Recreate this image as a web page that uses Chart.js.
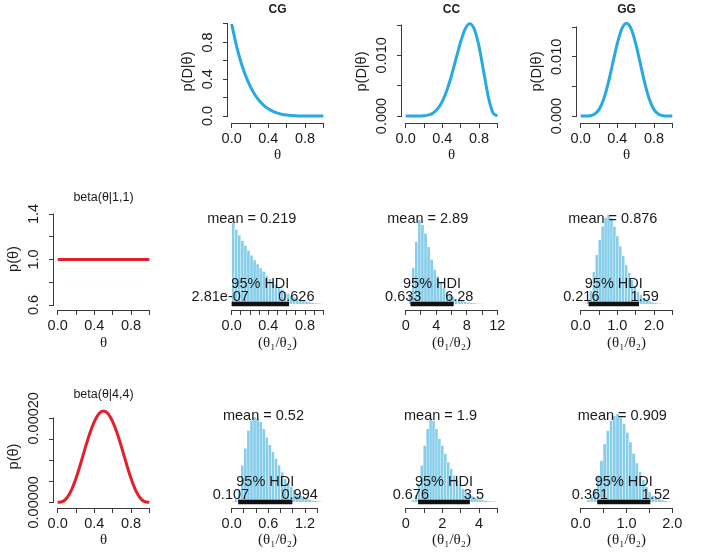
<!DOCTYPE html>
<html>
<head>
<meta charset="utf-8">
<script src="https://cdn.jsdelivr.net/npm/chart.js@4.4.1/dist/chart.umd.min.js"></script>
<style>
  html, body { margin: 0; padding: 0; background: #fff; }
  body { position: relative; width: 704px; height: 554px; overflow: hidden; }
  canvas { position: absolute; }
</style>
</head>
<body>
<script>
// theta grid shared by the likelihood and prior curves
const thetaGrid = [0, 0.05, 0.1, 0.15, 0.2, 0.25, 0.3, 0.35, 0.4, 0.45, 0.5, 0.55, 0.6, 0.65, 0.7, 0.75, 0.8, 0.85, 0.9, 0.95, 1];
const cgLik = [1, 0.774, 0.59, 0.444, 0.328, 0.237, 0.168, 0.116, 0.078, 0.05, 0.031, 0.018, 0.01, 0.005, 0.002, 0.001, 0.0003, 0.0001, 0, 0, 0];
const ccLik = [0, 0, 0.0000005, 0.0000072, 0.0000448, 0.000176, 0.000513, 0.00121, 0.00242, 0.00425, 0.00668, 0.00948, 0.01225, 0.01437, 0.0152, 0.01426, 0.01147, 0.0074, 0.00327, 0.0006, 0];
const ggLik = [0, 0.000001, 0.000034, 0.000276, 0.00108, 0.00279, 0.00552, 0.00892, 0.01229, 0.01478, 0.0157, 0.01478, 0.01229, 0.00892, 0.00552, 0.00279, 0.00108, 0.000276, 0.000034, 0.000001, 0];
const flatTheta = [0, 1];
const flatPrior = [1, 1];
const beta44Prior = [0, 0.0000015, 0.0000102, 0.0000289, 0.000057, 0.0000918, 0.000129, 0.000164, 0.000192, 0.000211, 0.0002175, 0.000211, 0.000192, 0.000164, 0.000129, 0.0000918, 0.000057, 0.0000289, 0.0000102, 0.0000015, 0];

// posterior histograms of theta1/theta2 (bin mids, relative density)
const cgFlatMid = [0.017, 0.05, 0.083, 0.117, 0.15, 0.183, 0.217, 0.25, 0.283, 0.317, 0.35, 0.383, 0.417, 0.45, 0.483, 0.517, 0.55, 0.583, 0.617, 0.65, 0.683, 0.717, 0.75, 0.783, 0.817, 0.85, 0.883, 0.917, 0.95, 0.983];
const cgFlatDens = [1, 0.92, 0.85, 0.78, 0.72, 0.66, 0.6, 0.54, 0.49, 0.44, 0.4, 0.35, 0.31, 0.27, 0.24, 0.21, 0.18, 0.15, 0.125, 0.1, 0.08, 0.065, 0.05, 0.04, 0.03, 0.022, 0.015, 0.01, 0.007, 0.004];
const ccFlatMid = [0.2, 0.6, 1.0, 1.4, 1.8, 2.2, 2.6, 3.0, 3.4, 3.8, 4.2, 4.6, 5.0, 5.4, 5.8, 6.2, 6.6, 7.0, 7.4, 7.8, 8.2, 8.6, 9.0, 9.4, 9.8, 10.2];
const ccFlatDens = [0, 0.12, 0.43, 0.74, 1, 0.94, 0.84, 0.68, 0.53, 0.41, 0.33, 0.25, 0.19, 0.14, 0.11, 0.08, 0.06, 0.045, 0.035, 0.025, 0.018, 0.013, 0.009, 0.006, 0.004, 0.003];
const ggFlatMid = [0.04, 0.12, 0.2, 0.28, 0.36, 0.44, 0.52, 0.6, 0.68, 0.76, 0.84, 0.92, 1.0, 1.08, 1.16, 1.24, 1.32, 1.4, 1.48, 1.56, 1.64, 1.72, 1.8, 1.88, 1.96, 2.04, 2.12, 2.2, 2.28];
const ggFlatDens = [0, 0.005, 0.04, 0.15, 0.36, 0.55, 0.72, 0.87, 0.97, 1, 0.96, 0.87, 0.76, 0.65, 0.54, 0.44, 0.35, 0.27, 0.2, 0.14, 0.1, 0.07, 0.045, 0.03, 0.02, 0.012, 0.007, 0.004, 0.002];
const cgB44Mid = [0.025, 0.075, 0.125, 0.175, 0.225, 0.275, 0.325, 0.375, 0.425, 0.475, 0.525, 0.575, 0.625, 0.675, 0.725, 0.775, 0.825, 0.875, 0.925, 0.975, 1.025, 1.075, 1.125, 1.175, 1.225, 1.275, 1.325, 1.375, 1.425, 1.475];
const cgB44Dens = [0.005, 0.03, 0.15, 0.43, 0.63, 0.84, 0.96, 1, 0.98, 0.94, 0.86, 0.76, 0.67, 0.59, 0.51, 0.43, 0.35, 0.27, 0.22, 0.18, 0.14, 0.1, 0.075, 0.055, 0.04, 0.028, 0.018, 0.012, 0.007, 0.004];
const ccB44Mid = [0.08, 0.24, 0.4, 0.56, 0.72, 0.88, 1.04, 1.2, 1.36, 1.52, 1.68, 1.84, 2.0, 2.16, 2.32, 2.48, 2.64, 2.8, 2.96, 3.12, 3.28, 3.44, 3.6, 3.76, 3.92, 4.08, 4.24, 4.4, 4.56, 4.72, 4.88];
const ccB44Dens = [0, 0.003, 0.02, 0.08, 0.22, 0.44, 0.68, 0.88, 1, 0.98, 0.88, 0.76, 0.68, 0.58, 0.48, 0.4, 0.32, 0.26, 0.2, 0.16, 0.12, 0.09, 0.07, 0.05, 0.04, 0.03, 0.02, 0.015, 0.01, 0.007, 0.005];
const ggB44Mid = [0.035, 0.105, 0.175, 0.245, 0.315, 0.385, 0.455, 0.525, 0.595, 0.665, 0.735, 0.805, 0.875, 0.945, 1.015, 1.085, 1.155, 1.225, 1.295, 1.365, 1.435, 1.505, 1.575, 1.645, 1.715, 1.785, 1.855, 1.925, 1.995];
const ggB44Dens = [0, 0.004, 0.02, 0.06, 0.15, 0.3, 0.47, 0.66, 0.81, 0.92, 0.98, 1, 0.96, 0.89, 0.79, 0.68, 0.55, 0.44, 0.34, 0.25, 0.17, 0.11, 0.07, 0.045, 0.03, 0.02, 0.012, 0.007, 0.004];

// posterior summaries, in panel order CG, CC, GG (flat prior) then CG, CC, GG (beta(4,4))
const postMean = [0.219, 2.89, 0.876, 0.52, 1.9, 0.909];
const postMeanText = ['0.219', '2.89', '0.876', '0.52', '1.9', '0.909'];
const hdiLow = [2.81e-7, 0.633, 0.216, 0.107, 0.676, 0.361];
const hdiLowText = ['2.81e-07', '0.633', '0.216', '0.107', '0.676', '0.361'];
const hdiHigh = [0.626, 6.28, 1.59, 0.994, 3.5, 1.52];
const hdiHighText = ['0.626', '6.28', '1.59', '0.994', '3.5', '1.52'];

// tick values and the labels R kept after dropping overlaps
const thetaTicks = [0, 0.2, 0.4, 0.6, 0.8, 1];
const thetaLabels = ['0.0', '', '0.4', '', '0.8', ''];
const cgYTicks = [0, 0.2, 0.4, 0.6, 0.8, 1];
const cgYLabels = ['0.0', '', '0.4', '', '0.8', ''];
const likYTicks = [0, 0.005, 0.01, 0.015];
const likYLabels = ['0.000', '', '0.010', ''];
const flatYTicks = [0.6, 0.8, 1, 1.2, 1.4];
const flatYLabels = ['0.6', '', '1.0', '', '1.4'];
const b44YTicks = [0, 0.00005, 0.0001, 0.00015, 0.0002];
const b44YLabels = ['0.00000', '', '', '', '0.00020'];
const cgFlatTicks = [0, 0.1, 0.2, 0.3, 0.4, 0.5, 0.6, 0.7, 0.8, 0.9, 1];
const cgFlatLabels = ['0.0', '', '', '', '0.4', '', '', '', '0.8', '', ''];
const ccFlatTicks = [0, 2, 4, 6, 8, 10, 12];
const ccFlatLabels = ['0', '', '4', '', '8', '', '12'];
const ggFlatTicks = [0, 0.5, 1, 1.5, 2, 2.5];
const ggFlatLabels = ['0.0', '', '1.0', '', '2.0', ''];
const cgB44Ticks = [0, 0.2, 0.4, 0.6, 0.8, 1, 1.2, 1.4];
const cgB44Labels = ['0.0', '', '', '0.6', '', '', '1.2', ''];
const ccB44Ticks = [0, 1, 2, 3, 4, 5];
const ccB44Labels = ['0', '', '2', '', '4', ''];
const ggB44Ticks = [0, 0.5, 1, 1.5, 2];
const ggB44Labels = ['0.0', '', '1.0', '', '2.0'];

const FONT = "'Liberation Sans', Arial, sans-serif";
const SERIF = "'Liberation Serif', 'DejaVu Serif', serif";
const INK = '#1a1a1a';
const AXIS = '#3a3a3a';
const BLUE = '#29a9e1';
const RED = '#e0202a';
const SKY = '#87ceeb';
const FS = 14.5;

function textWidth(str, size) {
  const c = document.createElement('canvas').getContext('2d');
  c.font = size + 'px ' + FONT;
  return c.measureText(str).width;
}

// R draws its axis line only between the first and last tick
const bracketAxes = {
  id: 'bracketAxes',
  afterDraw(chart) {
    const ctx = chart.ctx;
    ctx.save();
    ctx.strokeStyle = AXIS;
    ctx.lineWidth = 1;
    ['x', 'y'].forEach(id => {
      const s = chart.scales[id];
      if (!s || !s.options.display || !s.ticks.length) return;
      const a = s.getPixelForValue(s.ticks[0].value);
      const b = s.getPixelForValue(s.ticks[s.ticks.length - 1].value);
      ctx.beginPath();
      if (id === 'x') {
        const y = Math.round(s.top) + 0.5;
        ctx.moveTo(Math.round(a) - 0.5, y); ctx.lineTo(Math.round(b) + 0.5, y);
      } else {
        const x = Math.round(s.right) - 0.5;
        ctx.moveTo(x, Math.round(a) + 0.5); ctx.lineTo(x, Math.round(b) - 0.5);
      }
      ctx.stroke();
    });
    ctx.restore();
  }
};

// mean and HDI notes placed like plotPost does
const hdiNotes = {
  id: 'hdiNotes',
  afterDatasetsDraw(chart, args, o) {
    if (!o || o.mean === undefined) return;
    const x = chart.scales.x, y = chart.scales.y, ctx = chart.ctx;
    const y0 = y.getPixelForValue(0);
    ctx.save();
    ctx.fillStyle = INK;
    ctx.font = FS + 'px ' + FONT;
    ctx.textBaseline = 'alphabetic';
    ctx.textAlign = 'center';
    ctx.fillText('mean = ' + o.meanText, x.getPixelForValue(o.mean), chart.chartArea.top + 14.5);
    ctx.fillText('95% HDI', x.getPixelForValue((o.lo + o.hi) / 2), y0 - 16.5);
    ctx.textAlign = 'left';
    const wl = ctx.measureText(o.loText).width, wh = ctx.measureText(o.hiText).width;
    ctx.fillText(o.loText, x.getPixelForValue(o.lo) - 0.7 * wl, y0 - 3);
    ctx.fillText(o.hiText, x.getPixelForValue(o.hi) - 0.3 * wh, y0 - 3);
    ctx.restore();
  }
};

// y range so that value v0 sits at pixel p0 and v1 at p1, for a plot spanning T..B
function yRange(v0, p0, v1, p1, T, B) {
  const k = (p0 - p1) / (v1 - v0);
  return { min: v0 - (B - p0) / k, max: v1 + (p1 - T) / k };
}

const PW = 99, SIDE = 55, XH = 45;

function panel(p) {
  const cv = document.createElement('canvas');
  cv.width = SIDE + PW + SIDE;
  cv.height = p.topSpace + (p.B - p.T) + XH;
  cv.style.left = (p.L - SIDE) + 'px';
  cv.style.top = (p.T - p.topSpace) + 'px';
  document.body.appendChild(cv);

  const hasY = !!p.yTicks;
  let yScale;
  if (hasY) {
    const widest = Math.max(...p.yLabels.map(s => textWidth(s, FS)));
    yScale = {
      min: p.y.min, max: p.y.max, bounds: 'data',
      afterFit: s => { s.width = SIDE; },
      afterBuildTicks: s => { s.ticks = p.yTicks.map(v => ({ value: v })); },
      ticks: {
        autoSkip: false, minRotation: 90, maxRotation: 90, crossAlign: 'center',
        padding: 15 - widest / 2, color: INK, font: { family: FONT, size: FS },
        callback: (v, i) => p.yLabels[i]
      },
      grid: { drawOnChartArea: false, drawTicks: true, tickLength: 5, tickColor: AXIS, tickWidth: 1 },
      border: { display: false },
      title: { display: true, text: p.yTitle, color: INK, font: { family: FONT, size: FS }, padding: { top: 6, bottom: 0 } }
    };
  } else {
    yScale = { display: false, min: p.y.min, max: p.y.max, bounds: 'data' };
  }

  new Chart(cv, {
    type: p.type,
    data: { datasets: p.datasets },
    options: {
      responsive: false, animation: false, devicePixelRatio: 1, events: [],
      layout: { padding: { top: p.title ? 0 : p.topSpace, left: hasY ? 0 : SIDE, right: SIDE, bottom: 0 } },
      plugins: {
        legend: { display: false },
        tooltip: { enabled: false },
        title: p.title ? {
          display: true, fullSize: false, text: p.title, color: INK,
          font: { family: FONT, size: p.titleSize, weight: p.titleBold ? 'bold' : 'normal' },
          padding: { top: p.titlePad[0], bottom: p.titlePad[1] }
        } : { display: false },
        hdiNotes: p.notes || false
      },
      scales: {
        x: {
          type: 'linear', min: -0.04 * p.xEnd, max: 1.04 * p.xEnd, bounds: 'data', offset: false,
          afterFit: s => { s.height = XH; },
          afterBuildTicks: s => { s.ticks = p.xTicks.map(v => ({ value: v })); },
          ticks: {
            autoSkip: false, maxRotation: 0, minRotation: 0, padding: 2.5, color: INK,
            font: { family: FONT, size: FS }, callback: (v, i) => p.xLabels[i]
          },
          grid: { drawOnChartArea: false, drawTicks: true, tickLength: 5, tickColor: AXIS, tickWidth: 1, offset: false },
          border: { display: false },
          title: { display: true, text: p.xTitle, color: INK, font: { family: SERIF, size: 15 }, padding: { top: 0, bottom: p.xTitlePad } }
        },
        y: yScale
      }
    },
    plugins: [bracketAxes, hdiNotes]
  });
}

function curve(xs, ys, color) {
  return {
    type: 'line', data: xs.map((t, i) => ({ x: t, y: ys[i] })),
    borderColor: color, borderWidth: 3, pointRadius: 0, fill: false,
    cubicInterpolationMode: 'monotone'
  };
}

function histogram(mids, dens, i) {
  return [
    {
      type: 'line', order: 0,
      data: [{ x: hdiLow[i], y: 0 }, { x: hdiHigh[i], y: 0 }],
      borderColor: '#111', borderWidth: 4.5, pointRadius: 0, borderCapStyle: 'butt'
    },
    {
      type: 'bar', order: 1,
      data: mids.map((m, j) => ({ x: m, y: dens[j] })),
      backgroundColor: SKY, borderColor: '#fff',
      borderWidth: { left: 0.5, right: 0.5, top: 0, bottom: 0 }, borderSkipped: false,
      barPercentage: 1, categoryPercentage: 1
    }
  ];
}

function notes(i) {
  return { mean: postMean[i], meanText: postMeanText[i], lo: hdiLow[i], hi: hdiHigh[i], loText: hdiLowText[i], hiText: hdiHighText[i] };
}

const colL = [54, 228, 402, 577];
const rows = [
  { T: 20, B: 123, topSpace: 20 },
  { T: 208, B: 310, topSpace: 30 },
  { T: 405, B: 508, topSpace: 30 }
];
const histGap = 6;
const histPeakPx = [81, 84, 89, 85, 83, 88];

// top row: likelihoods
[
  { name: 'CG', lik: cgLik, yTicks: cgYTicks, yLabels: cgYLabels, y: [0, 116, 1, 24] },
  { name: 'CC', lik: ccLik, yTicks: likYTicks, yLabels: likYLabels, y: [0, 116, 0.015, 25] },
  { name: 'GG', lik: ggLik, yTicks: likYTicks, yLabels: likYLabels, y: [0, 116, 0.015, 27.3] }
].forEach((d, c) => {
  const r = rows[0];
  panel({
    type: 'line', L: colL[c + 1], T: r.T, B: r.B, topSpace: r.topSpace,
    title: d.name, titleSize: 12, titleBold: true, titlePad: [2.8, 2.8],
    xEnd: 1, xTicks: thetaTicks, xLabels: thetaLabels, xTitle: 'θ', xTitlePad: 4.3,
    yTicks: d.yTicks, yLabels: d.yLabels, yTitle: 'p(D|θ)',
    y: yRange(d.y[0], d.y[1], d.y[2], d.y[3], r.T, r.B),
    datasets: [curve(thetaGrid, d.lik, BLUE)]
  });
});

// priors
panel({
  type: 'line', L: colL[0], T: rows[1].T, B: rows[1].B, topSpace: rows[1].topSpace,
  title: 'beta(θ|1,1)', titleSize: 12.5, titleBold: false, titlePad: [12.5, 2.5],
  xEnd: 1, xTicks: thetaTicks, xLabels: thetaLabels, xTitle: 'θ', xTitlePad: 3,
  yTicks: flatYTicks, yLabels: flatYLabels, yTitle: 'p(θ)',
  y: yRange(0.6, 305, 1.4, 214, rows[1].T, rows[1].B),
  datasets: [curve(flatTheta, flatPrior, RED)]
});
panel({
  type: 'line', L: colL[0], T: rows[2].T, B: rows[2].B, topSpace: rows[2].topSpace,
  title: 'beta(θ|4,4)', titleSize: 12.5, titleBold: false, titlePad: [12.5, 2.5],
  xEnd: 1, xTicks: thetaTicks, xLabels: thetaLabels, xTitle: 'θ', xTitlePad: 3.5,
  yTicks: b44YTicks, yLabels: b44YLabels, yTitle: 'p(θ)',
  y: yRange(0, 502.3, 0.0002, 418.3, rows[2].T, rows[2].B),
  datasets: [curve(thetaGrid, beta44Prior, RED)]
});

// posterior ratio histograms
[
  { mid: cgFlatMid, dens: cgFlatDens, ticks: cgFlatTicks, labels: cgFlatLabels, end: 1, row: 1, col: 1 },
  { mid: ccFlatMid, dens: ccFlatDens, ticks: ccFlatTicks, labels: ccFlatLabels, end: 12, row: 1, col: 2 },
  { mid: ggFlatMid, dens: ggFlatDens, ticks: ggFlatTicks, labels: ggFlatLabels, end: 2.5, row: 1, col: 3 },
  { mid: cgB44Mid, dens: cgB44Dens, ticks: cgB44Ticks, labels: cgB44Labels, end: 1.5, row: 2, col: 1 },
  { mid: ccB44Mid, dens: ccB44Dens, ticks: ccB44Ticks, labels: ccB44Labels, end: 5, row: 2, col: 2 },
  { mid: ggB44Mid, dens: ggB44Dens, ticks: ggB44Ticks, labels: ggB44Labels, end: 2, row: 2, col: 3 }
].forEach((h, i) => {
  const r = rows[h.row];
  const k = histPeakPx[i];
  panel({
    type: 'bar', L: colL[h.col], T: r.T, B: r.B, topSpace: r.topSpace,
    xEnd: h.end, xTicks: h.ticks, xLabels: h.labels, xTitle: '(θ₁/θ₂)', xTitlePad: h.row === 1 ? 3 : 3.5,
    y: { min: -histGap / k, max: (r.B - histGap - r.T) / k },
    datasets: histogram(h.mid, h.dens, i),
    notes: notes(i)
  });
});
</script>
</body>
</html>
